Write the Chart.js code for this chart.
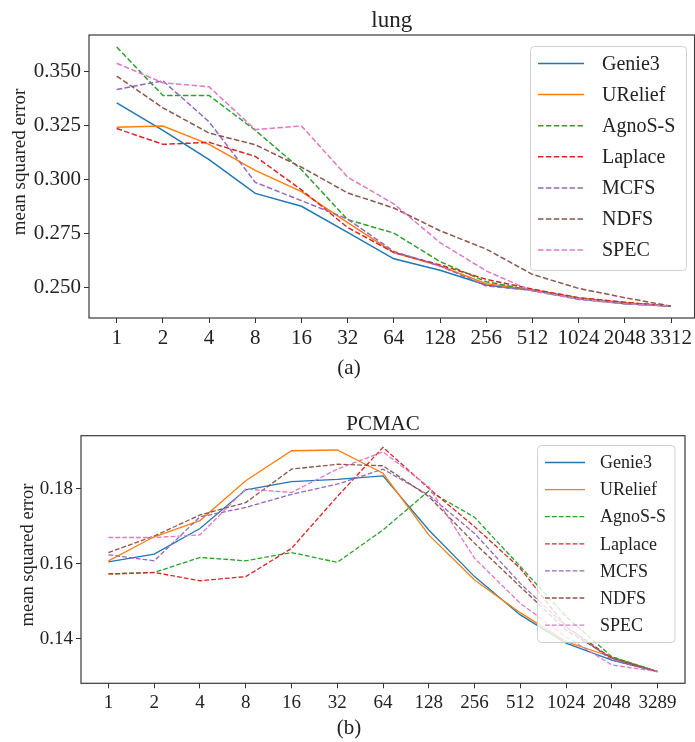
<!DOCTYPE html>
<html>
<head>
<meta charset="utf-8">
<script src="https://cdn.jsdelivr.net/npm/chart.js@4.4.1/dist/chart.umd.min.js"></script>
<style>
    html, body { margin: 0; padding: 0; background: #fff; }
    #wrap { position: relative; width: 695px; height: 742px; overflow: hidden; }
    canvas { position: absolute; left: 0; }
</style>
</head>
<body>
<div id="wrap">
    <canvas id="lungChart" width="695" height="390" style="top:0px"></canvas>
    <canvas id="pcmacChart" width="695" height="352" style="top:390px"></canvas>
</div>
<script>
// =======================
// DATOS
// =======================
const metodos = ["Genie3", "URelief", "AgnoS-S", "Laplace", "MCFS", "NDFS", "SPEC"];

const lungLabels = ["1", "2", "4", "8", "16", "32", "64", "128", "256", "512", "1024", "2048", "3312"];
const lungYTicks = [0.250, 0.275, 0.300, 0.325, 0.350];
const lungGenie3  = [0.3355, 0.3228, 0.3092, 0.2936, 0.2876, 0.2755, 0.2633, 0.2580, 0.2512, 0.2487, 0.2448, 0.2425, 0.2414];
const lungURelief = [0.3242, 0.3248, 0.3163, 0.3042, 0.2944, 0.2801, 0.2662, 0.2600, 0.2518, 0.2490, 0.2452, 0.2430, 0.2414];
const lungAgnoS   = [0.3613, 0.3389, 0.3389, 0.3228, 0.3045, 0.2814, 0.2752, 0.2620, 0.2527, 0.2487, 0.2450, 0.2428, 0.2414];
const lungLaplace = [0.3236, 0.3163, 0.3172, 0.3107, 0.2952, 0.2778, 0.2662, 0.2605, 0.2538, 0.2493, 0.2453, 0.2432, 0.2414];
const lungMCFS    = [0.3417, 0.3457, 0.3267, 0.2987, 0.2902, 0.2817, 0.2667, 0.2600, 0.2507, 0.2487, 0.2445, 0.2425, 0.2414];
const lungNDFS    = [0.3479, 0.3332, 0.3215, 0.3161, 0.3057, 0.2938, 0.2868, 0.2763, 0.2678, 0.2561, 0.2496, 0.2453, 0.2414];
const lungSPEC    = [0.3538, 0.3448, 0.3429, 0.3231, 0.3248, 0.3011, 0.2887, 0.2708, 0.2577, 0.2483, 0.2448, 0.2425, 0.2414];

const pcmacLabels = ["1", "2", "4", "8", "16", "32", "64", "128", "256", "512", "1024", "2048", "3289"];
const pcmacYTicks = [0.14, 0.16, 0.18];
const pcmacGenie3  = [0.1605, 0.1626, 0.1694, 0.1797, 0.1819, 0.1825, 0.1834, 0.1690, 0.1566, 0.1464, 0.1389, 0.1344, 0.1313];
const pcmacURelief = [0.1608, 0.1672, 0.1715, 0.1821, 0.1901, 0.1903, 0.1841, 0.1677, 0.1557, 0.1470, 0.1393, 0.1352, 0.1313];
const pcmacAgnoS   = [0.1573, 0.1577, 0.1617, 0.1608, 0.1630, 0.1604, 0.1690, 0.1794, 0.1724, 0.1593, 0.1460, 0.1353, 0.1313];
const pcmacLaplace = [0.1573, 0.1577, 0.1555, 0.1566, 0.1641, 0.1779, 0.1910, 0.1801, 0.1699, 0.1588, 0.1433, 0.1349, 0.1313];
const pcmacMCFS    = [0.1624, 0.1608, 0.1725, 0.1750, 0.1785, 0.1812, 0.1852, 0.1783, 0.1681, 0.1548, 0.1433, 0.1344, 0.1313];
const pcmacNDFS    = [0.1630, 0.1674, 0.1730, 0.1763, 0.1852, 0.1865, 0.1861, 0.1779, 0.1655, 0.1539, 0.1424, 0.1349, 0.1313];
const pcmacSPEC    = [0.1670, 0.1670, 0.1677, 0.1799, 0.1790, 0.1852, 0.1898, 0.1805, 0.1615, 0.1495, 0.1406, 0.1331, 0.1313];

// estilos (colores tab10 de matplotlib)
const colores = ["#1f77b4", "#ff7f0e", "#2ca02c", "#d62728", "#9467bd", "#8c564b", "#e377c2"];
const punteado = [false, false, true, true, true, true, true];
const FUENTE = "'Liberation Serif', 'DejaVu Serif', serif";
const TEXTO = "#222";

// =======================
// PLUGIN: marco, títulos y leyenda
// =======================
const decoracion = {
    id: "decoracion",
    afterDraw(chart) {
        const c = chart.options.plugins.decoracion;
        const ctx = chart.ctx;
        const a = chart.chartArea;
        ctx.save();

        // marco
        ctx.strokeStyle = "#3a3a3a";
        ctx.lineWidth = 1.2;
        ctx.strokeRect(a.left, a.top, a.right - a.left, a.bottom - a.top);

        ctx.fillStyle = TEXTO;
        // título
        ctx.font = `${c.tituloSize}px ${FUENTE}`;
        ctx.textAlign = "center";
        ctx.textBaseline = "alphabetic";
        ctx.fillText(c.titulo, (a.left + a.right) / 2 - c.tituloDx, c.tituloY);

        // leyenda del eje y
        ctx.save();
        ctx.font = `${c.yTituloSize}px ${FUENTE}`;
        ctx.translate(c.yTituloX, c.yTituloY);
        ctx.rotate(-Math.PI / 2);
        ctx.textBaseline = "middle";
        ctx.fillText("mean squared error", 0, 0);
        ctx.restore();

        // pie (a)/(b)
        ctx.font = `${c.pieSize}px ${FUENTE}`;
        ctx.textBaseline = "middle";
        ctx.fillText(c.pie, c.pieX, c.pieY);

        // cuadro de leyenda
        const L = c.leyenda;
        ctx.beginPath();
        if (ctx.roundRect) ctx.roundRect(L.x, L.y, L.w, L.h, 4);
        else ctx.rect(L.x, L.y, L.w, L.h);
        ctx.fillStyle = "rgba(255,255,255,0.8)";
        ctx.fill();
        ctx.strokeStyle = "rgba(204,204,204,0.9)";
        ctx.lineWidth = 1;
        ctx.stroke();

        ctx.font = `${L.size}px ${FUENTE}`;
        ctx.textAlign = "left";
        ctx.textBaseline = "middle";
        chart.data.datasets.forEach((ds, i) => {
            const y = L.fila0 + i * L.paso;
            ctx.beginPath();
            ctx.strokeStyle = ds.borderColor;
            ctx.lineWidth = ds.borderWidth;
            ctx.setLineDash(ds.borderDash || []);
            ctx.moveTo(L.x0, y);
            ctx.lineTo(L.x1, y);
            ctx.stroke();
            ctx.setLineDash([]);
            ctx.fillStyle = TEXTO;
            ctx.fillText(ds.label, L.texto, y + 1);
        });
        ctx.restore();
    }
};

function crearGrafico(id, cfg) {
    const datasets = cfg.series.map((serie, i) => ({
        label: metodos[i],
        data: serie.map((v, j) => ({ x: j, y: v })),
        borderColor: colores[i],
        borderWidth: cfg.grosor,
        borderDash: punteado[i] ? cfg.guiones : [],
        pointRadius: 0,
        fill: false,
        tension: 0,
        order: cfg.series.length - i
    }));

    return new Chart(document.getElementById(id), {
        type: "line",
        data: { datasets },
        plugins: [decoracion],
        options: {
            responsive: false,
            animation: false,
            devicePixelRatio: 1,
            layout: { padding: { top: cfg.padTop, right: cfg.padRight, left: 0, bottom: 0 } },
            plugins: {
                legend: { display: false },
                tooltip: { enabled: false },
                decoracion: cfg.deco
            },
            scales: {
                x: {
                    type: "linear",
                    min: -0.6,
                    max: cfg.xMax,
                    afterBuildTicks: s => { s.ticks = cfg.labels.map((_, i) => ({ value: i })); },
                    afterFit: s => { s.height = cfg.xAlto; },
                    grid: { drawOnChartArea: false, drawTicks: true, tickLength: 5, tickColor: "#333" },
                    border: { display: false },
                    ticks: {
                        autoSkip: false, maxRotation: 0, padding: 3, color: TEXTO,
                        font: { family: FUENTE, size: cfg.tickSize },
                        callback: v => cfg.labels[v]
                    }
                },
                y: {
                    min: cfg.yMin,
                    max: cfg.yMax,
                    afterBuildTicks: s => { s.ticks = cfg.yTicks.map(v => ({ value: v })); },
                    afterFit: s => { s.width = cfg.yAncho; },
                    grid: { drawOnChartArea: false, drawTicks: true, tickLength: 5, tickColor: "#333" },
                    border: { display: false },
                    ticks: {
                        padding: 3, color: TEXTO,
                        font: { family: FUENTE, size: cfg.tickSize },
                        callback: v => v.toFixed(cfg.decimales)
                    }
                }
            }
        }
    });
}

crearGrafico("lungChart", {
    labels: lungLabels,
    series: [lungGenie3, lungURelief, lungAgnoS, lungLaplace, lungMCFS, lungNDFS, lungSPEC],
    yTicks: lungYTicks, yMin: 0.2359, yMax: 0.3669, decimales: 3,
    xMax: 12.51, padTop: 35, padRight: 0, xAlto: 72, yAncho: 89,
    tickSize: 21, grosor: 1.5, guiones: [5.5, 2.4],
    deco: {
        titulo: "lung", tituloSize: 23, tituloY: 27, tituloDx: 0,
        yTituloSize: 19, yTituloX: 20, yTituloY: 162,
        pie: "(a)", pieSize: 21, pieX: 349, pieY: 368,
        leyenda: { x: 530.5, y: 46.5, w: 156, h: 224, size: 20, fila0: 63.5, paso: 31.1, x0: 538, x1: 584, texto: 602 }
    }
});

crearGrafico("pcmacChart", {
    labels: pcmacLabels,
    series: [pcmacGenie3, pcmacURelief, pcmacAgnoS, pcmacLaplace, pcmacMCFS, pcmacNDFS, pcmacSPEC],
    yTicks: pcmacYTicks, yMin: 0.1282, yMax: 0.1941, decimales: 2,
    xMax: 12.6, padTop: 45.7, padRight: 10, xAlto: 58.7, yAncho: 81,
    tickSize: 19, grosor: 1.3, guiones: [4.8, 2.1],
    deco: {
        titulo: "PCMAC", tituloSize: 21, tituloY: 40, tituloDx: 0,
        yTituloSize: 18.5, yTituloX: 28, yTituloY: 165,
        pie: "(b)", pieSize: 21, pieX: 349, pieY: 338,
        leyenda: { x: 537.5, y: 55.5, w: 137.5, h: 197, size: 18, fila0: 72.5, paso: 27.1, x0: 545, x1: 585, texto: 600 }
    }
});
</script>
</body>
</html>
